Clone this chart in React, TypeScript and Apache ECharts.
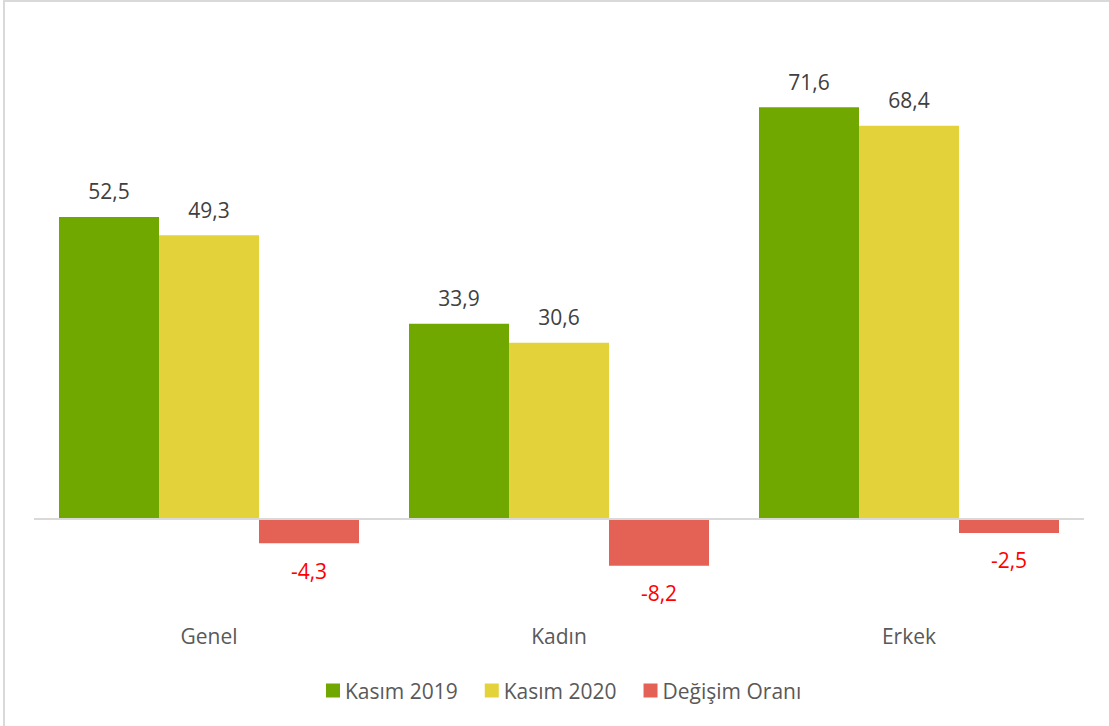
import React, { useEffect, useRef } from "react";
import * as echarts from "echarts";

const categories = ["Genel", "Kadın", "Erkek"];
const kasim2019 = [52.5, 33.9, 71.6];
const kasim2020 = [49.3, 30.6, 68.4];
const degisim = [-4.3, -8.2, -2.5];
const seriesNames = ["Kasım 2019", "Kasım 2020", "Değişim Oranı"];

const FONT = "'Open Sans', 'Noto Sans', sans-serif";
const fmt = (v: number) => String(v).replace(".", ",");

export default function App() {
  const ref = useRef<HTMLDivElement>(null);
  useEffect(() => {
    const chart = echarts.init(ref.current!, undefined, { renderer: "svg" });
    const labelBase = {
      show: true,
      fontFamily: FONT,
      fontSize: 21,
      formatter: (p: any) => fmt(p.value),
    };
    chart.setOption({
      animation: false,
      backgroundColor: "#ffffff",
      textStyle: { fontFamily: FONT },
      graphic: [
        {
          type: "rect",
          shape: { x: 4, y: 1, width: 1200, height: 800 },
          style: { fill: "none", stroke: "#d9d9d9", lineWidth: 2 },
          silent: true,
        },
      ],
      legend: {
        top: 675,
        left: 321,
        itemWidth: 14,
        itemHeight: 14,
        itemGap: 27,
        icon: "rect",
        textStyle: { fontFamily: FONT, fontSize: 21, color: "#595959" },
        data: seriesNames,
      },
      grid: { left: 34, right: 25, top: 59, bottom: 150 },
      xAxis: {
        type: "category",
        data: categories,
        axisLine: { show: false },
        axisTick: { show: false },
        axisLabel: { margin: 49, fontFamily: FONT, fontSize: 21, color: "#595959" },
      },
      yAxis: {
        type: "value",
        min: -10,
        max: 80,
        show: false,
        splitLine: { show: false },
      },
      series: [
        {
          name: seriesNames[0],
          type: "bar",
          data: kasim2019,
          barWidth: 100,
          barGap: "0%",
          itemStyle: { color: "#70a800" },
          label: { ...labelBase, position: "top", distance: 15, color: "#404040" },
          markLine: {
            silent: true,
            symbol: "none",
            label: { show: false },
            lineStyle: { color: "#d9d9d9", width: 2, type: "solid" },
            data: [{ yAxis: 0 }],
          },
        },
        {
          name: seriesNames[1],
          type: "bar",
          data: kasim2020,
          barWidth: 100,
          barGap: "0%",
          itemStyle: { color: "#e4d23a" },
          label: { ...labelBase, position: "top", distance: 15, color: "#404040" },
        },
        {
          name: seriesNames[2],
          type: "bar",
          data: degisim,
          barWidth: 100,
          barGap: "0%",
          itemStyle: { color: "#e46155" },
          label: { ...labelBase, position: "bottom", distance: 17, color: "#ff0000" },
        },
      ],
    });
    return () => chart.dispose();
  }, []);
  return (
    <div
      ref={ref}
      style={{ position: "absolute", left: 0, top: 0, width: 1109, height: 726 }}
    />
  );
}
